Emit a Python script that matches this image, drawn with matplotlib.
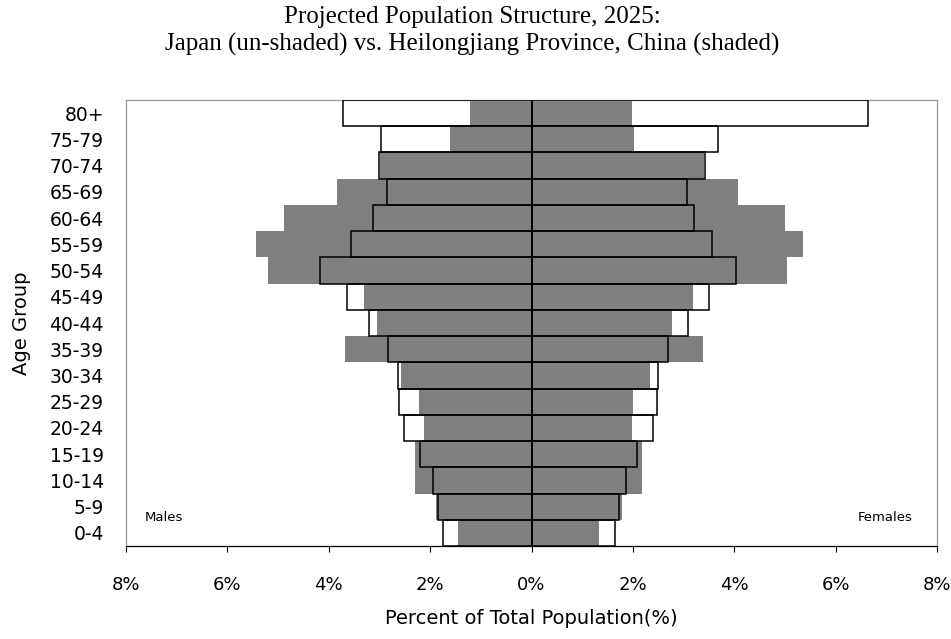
import matplotlib
matplotlib.use("Agg")
import matplotlib.pyplot as plt
import numpy as np

age_groups = ["0-4", "5-9", "10-14", "15-19", "20-24", "25-29", "30-34", "35-39",
              "40-44", "45-49", "50-54", "55-59", "60-64", "65-69", "70-74", "75-79", "80+"]

# values in percent of total population, ordered 0-4 ... 80+
japan_male = [1.75, 1.84, 1.95, 2.20, 2.52, 2.61, 2.63, 2.83, 3.21, 3.64,
              4.17, 3.56, 3.13, 2.86, 3.01, 2.96, 3.72]
japan_female = [1.64, 1.72, 1.86, 2.08, 2.39, 2.48, 2.50, 2.70, 3.08, 3.50,
                4.04, 3.56, 3.20, 3.06, 3.42, 3.68, 6.63]
hlj_male = [1.45, 1.88, 2.29, 2.29, 2.12, 2.22, 2.58, 3.68, 3.04, 3.31,
            5.19, 5.44, 4.89, 3.84, 2.98, 1.60, 1.22]
hlj_female = [1.34, 1.78, 2.18, 2.18, 1.98, 2.01, 2.33, 3.38, 2.78, 3.18,
              5.04, 5.35, 5.00, 4.07, 3.40, 2.02, 1.98]

xticks = [-8, -6, -4, -2, 0, 2, 4, 6, 8]
xtick_labels = ["8%", "6%", "4%", "2%", "0%", "2%", "4%", "6%", "8%"]

fig = plt.figure(figsize=(9.51, 6.39), dpi=100)
ax = fig.add_axes([0.1325, 0.1455, 0.8528, 0.698])

y = np.arange(len(age_groups))
jm = -np.array(japan_male)
jf = np.array(japan_female)
hm = -np.array(hlj_male)
hf = np.array(hlj_female)

# Japan white fill underneath
ax.barh(y, jm, height=1.0, color="white", edgecolor="none", zorder=1)
ax.barh(y, jf, height=1.0, color="white", edgecolor="none", zorder=1)
# Heilongjiang shaded
ax.barh(y, hm, height=1.0, color="#808080", edgecolor="none", zorder=2)
ax.barh(y, hf, height=1.0, color="#808080", edgecolor="none", zorder=2)
# Japan outlines on top
ax.barh(y, jm, height=1.0, fill=False, edgecolor="black", linewidth=1.1, zorder=3)
ax.barh(y, jf, height=1.0, fill=False, edgecolor="black", linewidth=1.1, zorder=3)
ax.axvline(0, color="black", linewidth=1.1, zorder=4)

ax.set_xlim(-8, 8)
ax.set_ylim(-0.5, len(age_groups) - 0.5)
ax.set_yticks(y)
ax.set_yticklabels(age_groups, fontsize=13.5, family="DejaVu Sans")
ax.tick_params(axis="y", length=0, pad=16)
ax.set_xticks(xticks)
ax.set_xticklabels(xtick_labels, fontsize=13, family="DejaVu Sans")
ax.tick_params(axis="x", direction="out", length=4.5, width=0.8, pad=17, color="black")

for side in ["top", "left", "right"]:
    ax.spines[side].set_color("#a0a0a0")
    ax.spines[side].set_linewidth(1.0)
ax.spines["bottom"].set_color("black")
ax.spines["bottom"].set_linewidth(0.9)

ax.set_xlabel("Percent of Total Population(%)", fontsize=14, family="DejaVu Sans", labelpad=11)
ax.set_ylabel("Age Group", fontsize=14, family="DejaVu Sans", labelpad=13)

ax.text(-7.64, 0.6, "Males", fontsize=9.5, ha="left", va="center", family="DejaVu Sans")
ax.text(7.52, 0.6, "Females", fontsize=9.5, ha="right", va="center", family="DejaVu Sans")

fig.text(0.497, 0.973, "Projected Population Structure, 2025:",
         ha="center", va="center", fontsize=18, family="Liberation Serif")
fig.text(0.497, 0.930, "Japan (un-shaded) vs. Heilongjiang Province, China (shaded)",
         ha="center", va="center", fontsize=18, family="Liberation Serif")

fig.savefig("out.png", dpi=100)
